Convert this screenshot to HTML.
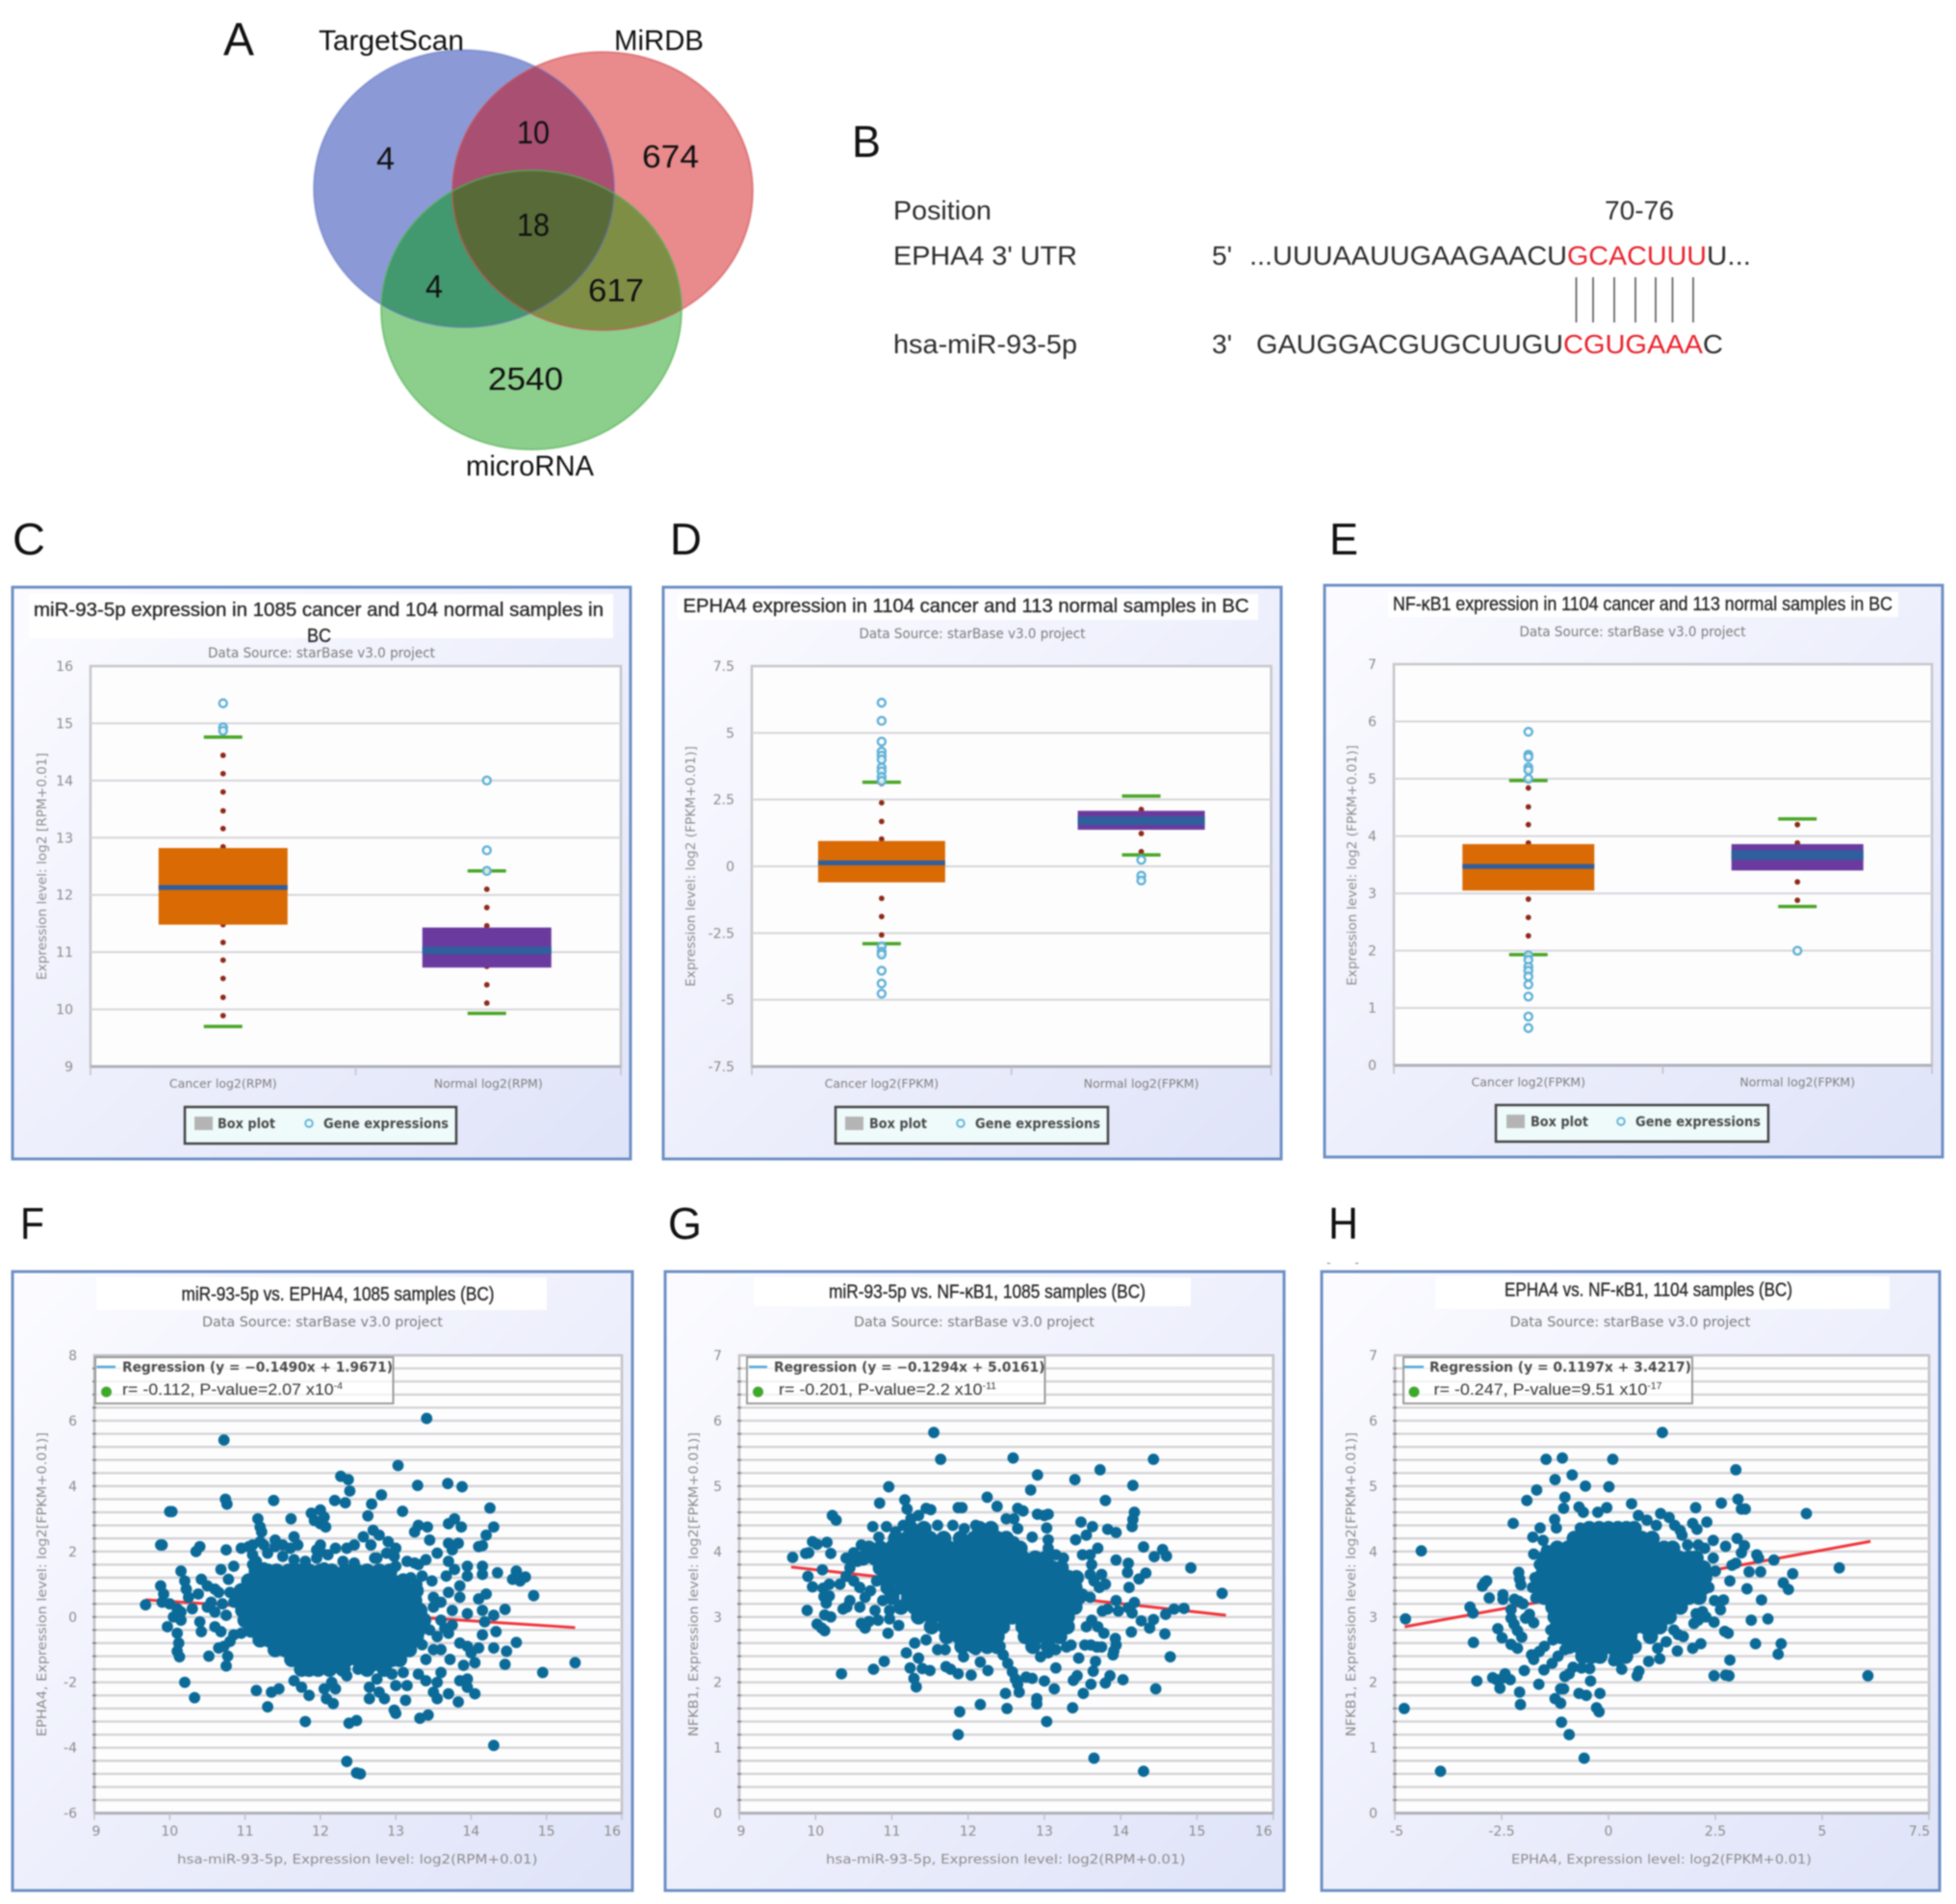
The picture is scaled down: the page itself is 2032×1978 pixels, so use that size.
<!DOCTYPE html>
<html lang="en">
<head>
<meta charset="utf-8">
<title>miR-93-5p and EPHA4 analysis figure</title>
<style>
html,body{margin:0;padding:0;background:#fff;width:2032px;height:1978px;overflow:hidden}
#figure{display:block;filter:blur(.9px)}
.ltr{font-family:"Liberation Sans",sans-serif;fill:#111}
.num{font-family:"Liberation Sans",sans-serif;fill:#111;font-size:33px}
.seq{font-family:"Liberation Sans",sans-serif;font-size:28px;fill:#2c2c2c}
.red{fill:#e8202c}
.title{font-family:"Liberation Sans",sans-serif;fill:#2a2a2a;stroke:#2a2a2a;stroke-width:.35px;font-size:20px}
.src{font-family:"DejaVu Sans",sans-serif;fill:#7c7c7c;font-size:14px}
.axt{font-family:"DejaVu Sans",sans-serif;fill:#8c8c8c;font-size:13px}
.lg{font-family:"DejaVu Sans",sans-serif;font-weight:bold;fill:#4a4a4a;font-size:14px}
.lr{font-family:"Liberation Sans",sans-serif;fill:#333;font-size:17px}
.frame{fill:url(#panel-bg);stroke:#6d8fc4;stroke-width:3}
</style>
</head>
<body>
<svg id="figure" xmlns="http://www.w3.org/2000/svg" width="2032" height="1978" viewBox="0 0 2032 1978">
<defs>
<linearGradient id="panel-bg" x1="0" y1="0" x2="1" y2="1"><stop offset="0" stop-color="#fbfbff"/><stop offset="1" stop-color="#dfe3f8"/></linearGradient>
<clipPath id="clip-blue"><ellipse cx="482" cy="196" rx="156" ry="144"/></clipPath>
<clipPath id="clip-red"><ellipse cx="626" cy="198.5" rx="156" ry="144.5"/></clipPath>
</defs>
<rect width="2032" height="1978" fill="#fff"/>

<g>
<ellipse cx="482" cy="196" rx="156" ry="144" fill="#8b9ad6"/>
<ellipse cx="626" cy="198.5" rx="156" ry="144.5" fill="#e98a8c"/>
<ellipse cx="552" cy="322" rx="156" ry="145" fill="#8ccf8c"/>
<ellipse cx="626" cy="198.5" rx="156" ry="144.5" fill="#a94f72" clip-path="url(#clip-blue)"/>
<ellipse cx="552" cy="322" rx="156" ry="145" fill="#42986f" clip-path="url(#clip-blue)"/>
<ellipse cx="552" cy="322" rx="156" ry="145" fill="#7f8e45" clip-path="url(#clip-red)"/>
<g clip-path="url(#clip-blue)"><ellipse cx="552" cy="322" rx="156" ry="145" fill="#586a38" clip-path="url(#clip-red)"/></g>
<ellipse cx="482" cy="196" rx="156" ry="144" fill="none" stroke="#5a6cc0" stroke-opacity=".45" stroke-width="2"/>
<ellipse cx="626" cy="198.5" rx="156" ry="144.5" fill="none" stroke="#cf5054" stroke-opacity=".55" stroke-width="2"/>
<ellipse cx="552" cy="322" rx="156" ry="145" fill="none" stroke="#55b055" stroke-opacity=".6" stroke-width="2"/>
<text class="ltr" x="331" y="52" font-size="30" textLength="151" lengthAdjust="spacingAndGlyphs">TargetScan</text>
<text class="ltr" x="638" y="52" font-size="30" textLength="93" lengthAdjust="spacingAndGlyphs">MiRDB</text>
<text class="ltr" x="484" y="494" font-size="30" textLength="133" lengthAdjust="spacingAndGlyphs">microRNA</text>
<text class="num" x="391" y="176" textLength="19" lengthAdjust="spacingAndGlyphs">4</text>
<text class="num" x="537" y="149" textLength="34" lengthAdjust="spacingAndGlyphs">10</text>
<text class="num" x="667" y="174" textLength="59" lengthAdjust="spacingAndGlyphs">674</text>
<text class="num" x="537" y="245" textLength="34" lengthAdjust="spacingAndGlyphs">18</text>
<text class="num" x="442" y="309" textLength="18" lengthAdjust="spacingAndGlyphs">4</text>
<text class="num" x="611" y="313" textLength="58" lengthAdjust="spacingAndGlyphs">617</text>
<text class="num" x="507" y="405" textLength="78" lengthAdjust="spacingAndGlyphs">2540</text>
</g>

<g>
<text class="ltr" x="232" y="57" font-size="48" textLength="32" lengthAdjust="spacingAndGlyphs">A</text>
<text class="ltr" x="885" y="163" font-size="46" textLength="30" lengthAdjust="spacingAndGlyphs">B</text>
<text class="ltr" x="13" y="576" font-size="46" textLength="34" lengthAdjust="spacingAndGlyphs">C</text>
<text class="ltr" x="696" y="576" font-size="46" textLength="33" lengthAdjust="spacingAndGlyphs">D</text>
<text class="ltr" x="1381" y="576" font-size="46" textLength="30" lengthAdjust="spacingAndGlyphs">E</text>
<text class="ltr" x="21" y="1287" font-size="46" textLength="25" lengthAdjust="spacingAndGlyphs">F</text>
<text class="ltr" x="694" y="1287" font-size="46" textLength="35" lengthAdjust="spacingAndGlyphs">G</text>
<text class="ltr" x="1380" y="1287" font-size="46" textLength="31" lengthAdjust="spacingAndGlyphs">H</text>
</g>

<g>
<text class="seq" x="928" y="228" textLength="102" lengthAdjust="spacingAndGlyphs">Position</text>
<text class="seq" x="1667" y="228" textLength="72" lengthAdjust="spacingAndGlyphs">70-76</text>
<text class="seq" x="928" y="275" textLength="191" lengthAdjust="spacingAndGlyphs">EPHA4 3' UTR</text>
<text class="seq" x="1259" y="275" textLength="21" lengthAdjust="spacingAndGlyphs">5'</text>
<text class="seq" x="1298" y="275" textLength="330" lengthAdjust="spacingAndGlyphs">...UUUAAUUGAAGAACU</text>
<text class="seq red" x="1628" y="275" textLength="145" lengthAdjust="spacingAndGlyphs">GCACUUU</text>
<text class="seq" x="1773" y="275" textLength="46" lengthAdjust="spacingAndGlyphs">U...</text>
<g stroke="#555" stroke-width="1.6">
<line x1="1637.5" x2="1637.5" y1="288" y2="335"/><line x1="1655" x2="1655" y1="288" y2="335"/><line x1="1677" x2="1677" y1="288" y2="335"/><line x1="1699" x2="1699" y1="288" y2="335"/><line x1="1720" x2="1720" y1="288" y2="335"/><line x1="1737.5" x2="1737.5" y1="288" y2="335"/><line x1="1759" x2="1759" y1="288" y2="335"/>
</g>
<text class="seq" x="928" y="367" textLength="191" lengthAdjust="spacingAndGlyphs">hsa-miR-93-5p</text>
<text class="seq" x="1259" y="367" textLength="21" lengthAdjust="spacingAndGlyphs">3'</text>
<text class="seq" x="1305" y="367" textLength="319" lengthAdjust="spacingAndGlyphs">GAUGGACGUGCUUGU</text>
<text class="seq red" x="1624" y="367" textLength="145" lengthAdjust="spacingAndGlyphs">CGUGAAA</text>
<text class="seq" x="1769" y="367" textLength="21" lengthAdjust="spacingAndGlyphs">C</text>
</g>

<!-- Panel C -->
<g>
<rect class="frame" x="13" y="610" width="642" height="594"/>
<rect x="30" y="617" width="607" height="46" fill="#fff"/>
<text class="title" x="35" y="640" textLength="592" lengthAdjust="spacingAndGlyphs">miR-93-5p expression in 1085 cancer and 104 normal samples in</text>
<text class="title" x="319" y="667" textLength="25" lengthAdjust="spacingAndGlyphs">BC</text>
<text class="src" x="216" y="683" textLength="236" lengthAdjust="spacingAndGlyphs">Data Source: starBase v3.0 project</text>
<g id="plot-c"></g>
<text class="axt" transform="translate(48,900) rotate(-90)" text-anchor="middle" textLength="236" lengthAdjust="spacingAndGlyphs">Expression level: log2 [RPM+0.01]</text>
<g>
<rect x="192" y="1150" width="282" height="38" fill="#eefbfa" stroke="#444" stroke-width="2.5"/>
<rect x="202" y="1160" width="19" height="14" fill="#b4b4b4"/>
<text class="lg" x="226" y="1172" textLength="60" lengthAdjust="spacingAndGlyphs">Box plot</text>
<circle cx="321" cy="1167" r="3.8" fill="none" stroke="#5fb0d8" stroke-width="1.8"/>
<text class="lg" x="336" y="1172" textLength="130" lengthAdjust="spacingAndGlyphs">Gene expressions</text>
</g>
</g>

<!-- Panel D -->
<g>
<rect class="frame" x="689" y="610" width="642" height="594"/>
<rect x="704" y="617" width="603" height="27" fill="#fff"/>
<text class="title" x="709.5" y="636" textLength="588" lengthAdjust="spacingAndGlyphs">EPHA4 expression in 1104 cancer and 113 normal samples in BC</text>
<text class="src" x="892.5" y="663" textLength="235" lengthAdjust="spacingAndGlyphs">Data Source: starBase v3.0 project</text>
<g id="plot-d"></g>
<text class="axt" transform="translate(722,900) rotate(-90)" text-anchor="middle" textLength="250" lengthAdjust="spacingAndGlyphs">Expression level: log2 (FPKM+0.01)]</text>
<g>
<rect x="868" y="1150" width="283" height="38" fill="#eefbfa" stroke="#444" stroke-width="2.5"/>
<rect x="878" y="1160" width="19" height="14" fill="#b4b4b4"/>
<text class="lg" x="903" y="1172" textLength="60" lengthAdjust="spacingAndGlyphs">Box plot</text>
<circle cx="998" cy="1167" r="3.8" fill="none" stroke="#5fb0d8" stroke-width="1.8"/>
<text class="lg" x="1013" y="1172" textLength="130" lengthAdjust="spacingAndGlyphs">Gene expressions</text>
</g>
</g>

<!-- Panel E -->
<g>
<rect class="frame" x="1376" y="608" width="642" height="594"/>
<rect x="1442" y="615" width="530" height="26" fill="#fff"/>
<text class="title" x="1447" y="634" font-size="18" textLength="519" lengthAdjust="spacingAndGlyphs">NF-κB1 expression in 1104 cancer and 113 normal samples in BC</text>
<text class="src" x="1578.5" y="661" textLength="235" lengthAdjust="spacingAndGlyphs">Data Source: starBase v3.0 project</text>
<g id="plot-e"></g>
<text class="axt" transform="translate(1409,899) rotate(-90)" text-anchor="middle" textLength="250" lengthAdjust="spacingAndGlyphs">Expression level: log2 (FPKM+0.01)]</text>
<g>
<rect x="1554" y="1148" width="283" height="38" fill="#eefbfa" stroke="#444" stroke-width="2.5"/>
<rect x="1565" y="1158" width="19" height="14" fill="#b4b4b4"/>
<text class="lg" x="1590" y="1170" textLength="60" lengthAdjust="spacingAndGlyphs">Box plot</text>
<circle cx="1684" cy="1165" r="3.8" fill="none" stroke="#5fb0d8" stroke-width="1.8"/>
<text class="lg" x="1699" y="1170" textLength="130" lengthAdjust="spacingAndGlyphs">Gene expressions</text>
</g>
</g>

<!-- Panel F -->
<g>
<rect class="frame" x="13" y="1321" width="644" height="643"/>
<rect x="100" y="1327" width="468" height="34" fill="#fff"/>
<text class="title" x="188.5" y="1351" font-size="18" textLength="325" lengthAdjust="spacingAndGlyphs">miR-93-5p vs. EPHA4, 1085 samples (BC)</text>
<text class="src" x="210" y="1378" textLength="250" lengthAdjust="spacingAndGlyphs">Data Source: starBase v3.0 project</text>
<g id="plot-f"></g>
<text class="axt" transform="translate(48,1646) rotate(-90)" text-anchor="middle" textLength="316" lengthAdjust="spacingAndGlyphs">EPHA4, Expression level: log2[FPKM+0.01)]</text>
<text class="axt" x="184" y="1936" textLength="374.5" lengthAdjust="spacingAndGlyphs">hsa-miR-93-5p, Expression level: log2(RPM+0.01)</text>
<g>
<rect x="99" y="1410" width="309.5" height="48" fill="#fff" fill-opacity=".72" stroke="#9a9a9a" stroke-width="2"/>
<line x1="100.5" x2="120" y1="1420" y2="1420" stroke="#4fa8d8" stroke-width="2.5"/>
<text class="lg" x="127" y="1425" textLength="281" lengthAdjust="spacingAndGlyphs">Regression (y = −0.1490x + 1.9671)</text>
<circle cx="110.5" cy="1446" r="5.5" fill="#3fa82c"/>
<text class="lr" x="127" y="1449" textLength="229" lengthAdjust="spacingAndGlyphs">r= -0.112, P-value=2.07 x10<tspan font-size="10" dy="-6">-4</tspan></text>
</g>
</g>

<!-- Panel G -->
<g>
<rect class="frame" x="691" y="1321" width="643" height="643"/>
<rect x="783" y="1327" width="454" height="30" fill="#fff"/>
<text class="title" x="861" y="1348.5" font-size="18" textLength="329" lengthAdjust="spacingAndGlyphs">miR-93-5p vs. NF-κB1, 1085 samples (BC)</text>
<text class="src" x="887" y="1378" textLength="250" lengthAdjust="spacingAndGlyphs">Data Source: starBase v3.0 project</text>
<g id="plot-g"></g>
<text class="axt" transform="translate(725,1646) rotate(-90)" text-anchor="middle" textLength="316" lengthAdjust="spacingAndGlyphs">NFKB1, Expression level: log2[FPKM+0.01)]</text>
<text class="axt" x="858" y="1936" textLength="373.5" lengthAdjust="spacingAndGlyphs">hsa-miR-93-5p, Expression level: log2(RPM+0.01)</text>
<g>
<rect x="776" y="1410" width="309.5" height="48" fill="#fff" fill-opacity=".72" stroke="#9a9a9a" stroke-width="2"/>
<line x1="778" x2="797" y1="1420" y2="1420" stroke="#4fa8d8" stroke-width="2.5"/>
<text class="lg" x="804" y="1425" textLength="281.5" lengthAdjust="spacingAndGlyphs">Regression (y = −0.1294x + 5.0161)</text>
<circle cx="787.5" cy="1446" r="5.5" fill="#3fa82c"/>
<text class="lr" x="809" y="1449" textLength="226" lengthAdjust="spacingAndGlyphs">r= -0.201, P-value=2.2 x10<tspan font-size="10" dy="-6">-11</tspan></text>
</g>
</g>

<!-- Panel H -->
<g>
<rect class="frame" x="1373" y="1321" width="642" height="643"/>
<text class="axt" x="1378" y="1316" textLength="34" lengthAdjust="spacing">- -</text>
<rect x="1491" y="1326" width="472" height="34" fill="#fff"/>
<text class="title" x="1563" y="1346.5" font-size="18" textLength="299" lengthAdjust="spacingAndGlyphs">EPHA4 vs. NF-κB1, 1104 samples (BC)</text>
<text class="src" x="1568.5" y="1378" textLength="250" lengthAdjust="spacingAndGlyphs">Data Source: starBase v3.0 project</text>
<g id="plot-h"></g>
<text class="axt" transform="translate(1408,1646) rotate(-90)" text-anchor="middle" textLength="316" lengthAdjust="spacingAndGlyphs">NFKB1, Expression level: log2[FPKM+0.01)]</text>
<text class="axt" x="1570" y="1936" textLength="312" lengthAdjust="spacingAndGlyphs">EPHA4, Expression level: log2(FPKM+0.01)</text>
<g>
<rect x="1458" y="1410" width="300" height="48" fill="#fff" fill-opacity=".72" stroke="#9a9a9a" stroke-width="2"/>
<line x1="1459" x2="1479" y1="1420" y2="1420" stroke="#4fa8d8" stroke-width="2.5"/>
<text class="lg" x="1485" y="1425" textLength="272" lengthAdjust="spacingAndGlyphs">Regression (y = 0.1197x + 3.4217)</text>
<circle cx="1469" cy="1446" r="5.5" fill="#3fa82c"/>
<text class="lr" x="1489.5" y="1449" textLength="237" lengthAdjust="spacingAndGlyphs">r= -0.247, P-value=9.51 x10<tspan font-size="10" dy="-6">-17</tspan></text>
</g>
</g>
</svg>

<script>
/* ---------- Box plot data ---------- */
const cCategories = ["Cancer log2(RPM)", "Normal log2(RPM)"];
const cYTicks = [9, 10, 11, 12, 13, 14, 15, 16];
const cQ1 = [11.48, 10.73];
const cMedian = [12.13, 11.03];
const cQ3 = [12.82, 11.43];
const cWhiskerLow = [9.70, 9.93];
const cWhiskerHigh = [14.76, 12.42];
const cOutliersCancer = [15.35, 14.93, 14.87];
const cOutliersNormal = [14.0, 12.78, 12.42];
const cDotsCancer = [14.44, 14.12, 13.80, 13.47, 13.16, 12.84, 11.48, 11.17, 10.86, 10.54, 10.21, 9.89];
const cDotsNormal = [12.10, 11.78, 11.46, 10.75, 10.43, 10.11];

const dCategories = ["Cancer log2(FPKM)", "Normal log2(FPKM)"];
const dYTicks = [-7.5, -5, -2.5, 0, 2.5, 5, 7.5];
const dQ1 = [-0.60, 1.37];
const dMedian = [0.13, 1.71];
const dQ3 = [0.95, 2.08];
const dWhiskerLow = [-2.90, 0.43];
const dWhiskerHigh = [3.15, 2.63];
const dOutliersCancer = [6.13, 5.45, 4.67, 4.3, 4.15, 4.0, 3.7, 3.56, 3.35, 3.2, -3.0, -3.2, -3.3, -3.91, -4.39, -4.77];
const dOutliersNormal = [0.24, -0.35, -0.53];
const dDotsCancer = [3.1, 2.38, 1.68, 1.02, -1.2, -1.88, -2.57];
const dDotsNormal = [2.13, 1.23, 0.55];

const eCategories = ["Cancer log2(FPKM)", "Normal log2(FPKM)"];
const eYTicks = [0, 1, 2, 3, 4, 5, 6, 7];
const eQ1 = [3.05, 3.40];
const eMedian = [3.47, 3.67];
const eQ3 = [3.86, 3.86];
const eWhiskerLow = [1.93, 2.77];
const eWhiskerHigh = [4.97, 4.30];
const eOutliersCancer = [5.82, 5.42, 5.38, 5.2, 5.15, 5.0, 1.92, 1.84, 1.72, 1.65, 1.55, 1.41, 1.2, 0.85, 0.65];
const eOutliersNormal = [2.0];
const eDotsCancer = [4.84, 4.51, 4.2, 3.88, 2.9, 2.58, 2.26];
const eDotsNormal = [4.2, 3.88, 3.2, 2.88];

/* ---------- Scatter data: F ---------- */
const fXTicks = [9, 10, 11, 12, 13, 14, 15, 16];
const fYTicks = [-6, -4, -2, 0, 2, 4, 6, 8];
const fRegressionX = [9.68, 15.38];
const fRegressionY = [0.525, -0.325];
const fPoints = [[13.41,6.07],[10.72,5.41],[13.03,4.63],[12.27,4.3],[12.37,4.2],[12.39,3.85],[13.29,4.02],[13.69,4.08],[13.88,3.98],[12.81,3.73],[10.74,3.6],[10.76,3.45],[11.38,3.56],[12.19,3.56],[12.33,3.49],[12.68,3.45],[12.63,3.09],[13.09,3.23],[14.25,3.33],[10.03,3.22],[10,3.22],[11.17,3],[11.61,3],[11.88,3.17],[12,3.27],[12.05,3.05],[11.92,2.95],[12,2.85],[12.07,2.75],[11.2,2.75],[11.22,2.6],[12.7,2.65],[12.78,2.5],[13.25,2.6],[13.3,2.8],[13.42,2.75],[13.7,2.85],[13.78,3],[13.87,2.75],[14.3,2.75],[14.2,2.5],[12.57,2.45],[12.67,2.2],[12.9,2.3],[13,2.1],[12.75,1.8],[12.88,1.95],[13.45,2.35],[13.7,2.25],[13.83,2.25],[13.75,2.05],[14.1,2.15],[14.15,2.18],[11.4,2.35],[11.5,2.2],[11.6,2.1],[11.7,2.2],[11.65,2.45],[11.25,2.2],[11.3,1.95],[11.1,2.2],[10.75,2.05],[10.95,2.1],[10.35,2],[10.4,2.15],[9.9,2.2],[9.88,2.2],[12,2.2],[11.95,2.05],[12.2,2.1],[12.35,2.1],[12.45,2.2],[12.1,1.9],[14.15,1.55],[13.95,1.55],[13.95,1.25],[14.15,1.3],[14.6,1.4],[14.35,1.35],[14.55,1.15],[14.65,1.1],[14.72,1.22],[14.83,0.65],[14.45,0.23],[14.2,0.7],[14.1,0.55],[13.3,1.6],[13.4,1.75],[13.55,1.95],[13.7,1.7],[13.67,1.25],[13.78,1.45],[13.85,0.95],[13.7,0.75],[13.85,0.6],[13.95,0.1],[14.15,0.2],[14.18,-0.15],[14.3,0.05],[14.15,-0.55],[14.33,-0.45],[14.3,-0.95],[14.47,-1.05],[14.6,-0.78],[14.45,-1.45],[14.95,-1.7],[15.38,-1.4],[13.95,-0.9],[13.85,-0.8],[14,-1.1],[14.1,-0.95],[14.05,-1.4],[13.9,-1.48],[13.6,-1.7],[13.72,-1.3],[13.4,-1.95],[13.55,-2],[13.5,-2.3],[13.55,-2.5],[13.7,-2.35],[13.83,-2.6],[13.85,-1.95],[13.95,-1.9],[13.95,-2.15],[14.05,-2.35],[13.1,-1.7],[13.15,-2.1],[13.3,-1.75],[13,-2.1],[12.95,-1.75],[13.13,-2.55],[12.98,-2.85],[13,-2.95],[13.32,-3.1],[13.43,-3],[12.7,-1.5],[12.75,-1.9],[12.65,-2.15],[12.78,-2.3],[12.65,-2.5],[12.85,-2.5],[12.35,-1.8],[12.5,-1.6],[11.3,-2.75],[11.15,-2.25],[11.35,-2.3],[11.45,-2.2],[11.75,-2.15],[11.85,-2.4],[11.65,-1.95],[12.05,-2.2],[12.15,-2],[12.2,-2.2],[12.08,-2.5],[12.17,-2.65],[11.8,-3.2],[12.38,-3.25],[12.48,-3.17],[14.3,-3.93],[12.35,-4.42],[12.48,-4.77],[12.53,-4.8],[10.2,-2],[10.33,-2.47],[9.68,0.37],[9.88,0.95],[9.92,0.7],[9.9,0.45],[10,0.4],[9.97,-0.3],[10.05,0],[10.1,0.25],[10.15,1.4],[10.2,1.1],[10.22,0.85],[10.25,0.6],[10.15,0.15],[10.15,-0.1],[10.1,-0.5],[10.12,-0.8],[10.1,-1.05],[10.13,-1.22],[10.3,0.25],[10.38,0.7],[10.42,1.15],[10.5,0.95],[10.6,0.85],[10.65,0.75],[10.4,-0.15],[10.42,-0.45],[10.5,0.3],[10.6,0.15],[10.6,-0.3],[10.68,-0.45],[10.52,-1.2],[10.65,-0.95],[10.72,-0.9],[10.77,-1.2],[10.75,-1.5],[10.8,-0.75],[10.85,-0.55],[10.95,-0.5],[10.68,1.45],[10.85,1.55],[10.78,1.15],[10.8,0.75],[10.7,0.4],[10.55,0.45],[10.85,0.45],[10.75,0.05],[11.05,2.15],[11.1,1.9],[11.1,1.6],[11.25,1.5],[11.2,2.3],[11.4,2.15],[11.15,1.7],[11.5,1.85],[11.65,1.75],[11.8,1.7],[11.95,1.8],[12.05,1.5],[12,2],[12.3,1.7],[12.45,1.65],[12.6,1.35],[12.72,1.8],[12.98,1.85],[13,1.55],[13.15,1.7],[13.25,1.65],[13.2,1.2],[13.28,1],[13.35,1.25],[13.48,1.1],[13.5,0.3],[13.6,-0.1],[13.65,-0.35],[13.55,-0.6],[13.7,-0.5],[13.75,-0.25],[13.45,-0.4],[13.3,-0.6],[13.4,-1.3],[13.5,-1],[13.6,-1],[13.35,-0.85],[13.75,0.2],[13.5,0.6],[13.6,0.45]];
const fRowY = [1.4, 1.1, 0.8, 0.5, 0.2, -0.1, -0.4, -0.7, -1, -1.3, -1.6];
const fRowX = [
[11.15,11.3,11.42,11.58,11.7,11.85,12,12.15,12.33,12.48,12.62,12.78,12.92],
[11.05,11.18,11.32,11.47,11.62,11.75,11.9,12.05,12.2,12.35,12.5,12.65,12.8,12.95,13.1],
[10.95,11.1,11.25,11.38,11.53,11.68,11.82,11.97,12.12,12.27,12.42,12.57,12.72,12.87,13.02,13.17,13.27],
[10.9,11.03,11.17,11.32,11.47,11.6,11.75,11.9,12.05,12.2,12.35,12.5,12.65,12.8,12.95,13.1,13.25],
[10.97,11.1,11.25,11.38,11.53,11.68,11.82,11.97,12.12,12.27,12.42,12.57,12.72,12.87,13.02,13.17,13.32],
[11,11.17,11.32,11.47,11.6,11.75,11.9,12.05,12.2,12.35,12.5,12.65,12.8,12.95,13.1,13.25,13.37],
[11.08,11.25,11.38,11.53,11.68,11.82,11.97,12.12,12.27,12.42,12.57,12.72,12.87,13.02,13.17,13.3],
[11.2,11.32,11.47,11.6,11.75,11.9,12.05,12.2,12.35,12.5,12.65,12.8,12.95,13.1,13.25],
[11.4,11.53,11.68,11.82,11.97,12.12,12.27,12.42,12.57,12.72,12.87,13.02,13.18],
[11.62,11.75,11.9,12.05,12.2,12.35,12.5,12.65,12.8,12.95,13.05],
[11.75,11.85,11.97,12.12,12.3,12.62,12.85]
];

/* ---------- Scatter data: G ---------- */
const gXTicks = [9, 10, 11, 12, 13, 14, 15, 16];
const gYTicks = [0, 1, 2, 3, 4, 5, 6, 7];
const gRegressionX = [9.68, 15.38];
const gRegressionY = [3.763, 3.026];
const gPoints = [[11.55,5.82],[11.64,5.41],[12.59,5.43],[14.43,5.41],[13.73,5.25],[12.91,5.17],[13.4,5.1],[10.96,4.99],[14.16,5.01],[12.82,4.94],[13.8,4.78],[10.84,4.74],[11.17,4.79],[12.25,4.83],[12.38,4.69],[14.18,4.6],[14.16,4.49],[14.15,4.38],[11.87,4.67],[11.92,4.67],[11.45,4.66],[11.51,4.64],[10.22,4.55],[10.27,4.48],[12.65,4.66],[12.72,4.62],[12.91,4.57],[13,4.55],[13.05,4.57],[13.03,4.36],[13.48,4.45],[13.63,4.38],[13.83,4.34],[13.94,4.29],[12.84,4.22],[13.41,4.18],[13.55,4.25],[14.3,4.07],[14.55,4.03],[14.44,3.92],[14.6,3.93],[14.92,3.75],[15.33,3.36],[9.7,3.91],[9.87,3.97],[9.91,3.98],[9.96,4.15],[10.02,4.11],[10.15,4.14],[10.2,3.97],[10.09,3.72],[9.9,3.62],[9.96,3.46],[9.89,3.1],[10.02,2.89],[10.08,2.83],[10.12,2.79],[10.12,3.03],[10.2,3],[10.1,3.44],[10.18,3.5],[10.11,3.31],[10.18,3.32],[10.14,3.21],[10.32,3.5],[10.36,3.12],[10.41,3.15],[10.34,2.13],[10.76,2.2],[10.9,2.32],[10.95,2.75],[11.09,2.87],[11.19,2.45],[11.24,2.22],[11.29,2.06],[11.32,1.93],[11.35,2.37],[11.4,2.21],[11.5,2.18],[11.71,2.24],[11.77,2.2],[11.87,2.13],[12.04,2.11],[12.16,2.31],[12.26,2.18],[11.94,2.39],[11.89,1.55],[11.87,1.2],[12.16,1.66],[12.49,1.83],[12.51,1.6],[12.67,1.85],[12.65,1.97],[12.9,1.75],[12.9,1.67],[12.76,2.08],[12.84,2.06],[13,2.02],[13.13,1.9],[13.03,1.4],[13.37,1.61],[13.38,2.03],[13.43,2.1],[13.51,1.83],[13.61,1.97],[13.64,2.17],[13.67,2.32],[13.8,1.99],[13.86,2.1],[14.03,2.04],[14.46,1.9],[13.65,0.84],[14.3,0.64],[13.15,2.22],[12.95,2.39],[12.42,2.55],[12.46,2.42],[12.52,2.29],[12.58,2.16],[12.62,2.05],[14.65,2.39],[14.58,2.74],[14.38,2.83],[14.43,2.96],[14.27,2.94],[14.14,2.77],[14.59,3.04],[14.7,3.12],[14.83,3.13],[14.18,3.22],[14.15,3.06],[14.1,3.14],[13.94,3.25],[13.97,3.09],[13.83,3.12],[13.76,3.09],[14.24,3.58],[14.33,3.67],[14.11,3.45],[14.09,3.68],[14.1,3.82],[13.94,3.87],[13.91,2.48],[13.9,2.42],[13.94,2.57],[13.93,2.67],[13.75,2.54],[13.69,2.54],[13.61,2.57],[13.53,2.57],[13.45,2.37],[13.29,2.54],[13.35,2.57],[13.15,2.5],[13.05,2.45],[10.4,3.9],[10.45,3.75],[10.5,3.98],[10.55,3.85],[10.6,4.1],[10.7,4.05],[10.8,4],[10.75,4.38],[10.83,4.22],[10.93,4.38],[11,4.1],[10.4,3.62],[10.5,3.55],[10.58,3.45],[10.65,3.3],[10.72,3.4],[10.8,3.55],[10.45,3.25],[10.58,3.15],[10.6,2.9],[10.65,2.83],[10.7,2.93],[10.82,2.95],[10.78,3.1],[10.88,3.25],[10.97,3.1],[10.97,2.97],[11.05,3.4],[11.15,4.4],[11.25,4.5],[11.2,4.65],[11.35,4.55],[11.05,4.3],[11.6,4.4],[11.8,4.4],[11.95,4.35],[12.1,4.4],[12.3,4.3],[12.4,4.2],[12.5,4.5],[12.6,4.5],[12.65,4.35],[12.6,4.15],[13.05,4.18],[13.05,4.05],[13.15,3.95],[13.25,3.9],[13.5,3.95],[13.6,3.95],[13.7,4.05],[13.62,3.8],[13.6,3.65],[13.65,3.55],[13.72,3.45],[13.75,3.65],[13.8,3.5],[13.5,3.35],[13.6,3.3],[13.62,2.95],[13.7,2.85],[13.78,2.75],[13.55,2.85],[11.3,2.6],[11.45,2.65],[11.6,2.5],[11.7,2.5],[11.5,2.85],[12.1,2.5],[12.3,2.55]];
const gRowY = [4.35, 4.2, 4.05, 3.9, 3.75, 3.6, 3.45, 3.3, 3.15, 3, 2.85, 2.7, 2.55];
const gRowX = [
[11.25,11.42,12.15,12.3],
[11.05,11.2,11.35,11.5,11.68,11.9,12.08,12.22,12.38,12.5],
[10.7,10.85,11,11.15,11.3,11.45,11.6,11.75,11.9,12.05,12.2,12.35,12.5,12.68],
[10.5,10.62,10.78,10.92,11.08,11.22,11.38,11.52,11.68,11.82,11.98,12.12,12.28,12.42,12.58,12.72,12.88,13.02],
[10.85,11,11.15,11.3,11.45,11.6,11.75,11.9,12.05,12.2,12.35,12.5,12.65,12.8,12.95,13.1,13.22],
[10.92,11.08,11.22,11.38,11.52,11.68,11.82,11.98,12.12,12.28,12.42,12.58,12.72,12.88,13.02,13.18,13.32,13.42],
[10.95,11.15,11.3,11.45,11.6,11.75,11.9,12.05,12.2,12.35,12.5,12.65,12.8,12.95,13.1,13.25,13.4],
[11,11.22,11.38,11.52,11.68,11.82,11.98,12.12,12.28,12.42,12.58,12.72,12.88,13.02,13.18,13.32,13.45],
[11.12,11.3,11.45,11.6,11.75,11.9,12.05,12.2,12.35,12.5,12.65,12.8,12.95,13.1,13.25,13.4],
[11.35,11.52,11.68,11.82,11.98,12.12,12.28,12.42,12.58,12.72,12.88,13.02,13.18,13.3],
[11.52,11.7,11.85,12,12.15,12.3,12.45,12.72,12.85,13,13.15,13.3],
[11.72,11.88,12.05,12.22,12.38,12.75,12.9,13.08,13.2],
[11.92,12.08,12.25,12.38,12.85,13.05]
];

/* ---------- Scatter data: H ---------- */
const hXTicks = [-5, -2.5, 0, 2.5, 5, 7.5];
const hXTickLabels = ["-5", "-2.5", "0", "2.5", "5", "7.5"];
const hYTicks = [0, 1, 2, 3, 4, 5, 6, 7];
const hRegressionX = [-4.77, 6.13];
const hRegressionY = [2.85, 4.156];
const hPoints = [[1.26,5.82],[-1.46,5.41],[-1.08,5.43],[0.1,5.41],[2.98,5.25],[-0.85,5.17],[-1.25,5.1],[-0.54,5],[0.01,4.99],[-1.68,4.94],[-1.91,4.78],[-1.02,4.83],[3.03,4.8],[2.64,4.74],[3.11,4.65],[3.2,4.65],[2.04,4.67],[4.63,4.58],[-1.05,4.66],[-0.69,4.68],[-0.59,4.6],[-0.25,4.6],[-0.04,4.67],[0.54,4.73],[1.22,4.58],[1.42,4.52],[-2.23,4.43],[-1.6,4.36],[-1.26,4.49],[-1.22,4.36],[-0.66,4.36],[-4.38,4.01],[-1.77,4.22],[-1.53,4.17],[-1.75,3.96],[1.97,4.43],[2.3,4.45],[2.07,4.34],[1.68,4.32],[2.45,4.17],[2.74,4.08],[3.01,4.2],[3.18,4.09],[3.11,3.98],[3.47,3.95],[3.51,3.9],[3.87,3.87],[2.98,3.82],[2.89,3.79],[3.29,3.69],[3.56,3.69],[4.31,3.66],[4.09,3.52],[4.21,3.42],[5.4,3.75],[2.84,3.55],[3.24,3.43],[3.58,3.26],[2.69,3.26],[2.48,3.25],[2.62,3.11],[3.34,2.95],[3.73,2.97],[2.47,2.92],[2.72,2.78],[2.8,2.75],[3.44,2.59],[4.04,2.59],[3.97,2.43],[2.84,2.34],[2.47,2.1],[2.74,2.11],[2.82,2.1],[6.07,2.1],[-4.75,2.97],[-4.78,1.6],[-3.93,0.64],[-3.24,3.15],[-3.17,3.06],[-3.16,2.61],[-3.08,2.02],[-2.9,3.52],[-2.85,3.55],[-2.95,3.47],[-2.79,3.29],[-2.47,3.34],[-2.47,3.27],[-2.59,2.82],[-2.49,2.68],[-2.71,2.07],[-2.62,2.04],[-2.54,1.91],[-2.42,2.13],[-2.3,2.04],[-2.46,2.07],[-2.28,2.58],[-2.13,2.52],[-1.97,2.18],[-2.08,1.85],[-2.06,1.66],[-1.63,1.97],[-2.2,3.27],[-2.1,3.68],[-2.08,3.58],[-2.05,3.49],[-2,3.2],[-2.1,3.24],[-2.28,3.11],[-2.28,2.98],[-2.21,2.89],[-2.13,2.79],[-2.03,2.69],[-1.94,2.98],[-1.75,2.91],[-1.7,3.29],[-1.85,3.04],[-1.8,2.42],[-1.75,2.35],[-1.51,2.19],[-1.32,2.29],[-1.12,1.9],[-1.05,1.9],[-1.25,1.75],[-1.12,1.68],[-1.1,1.39],[-0.92,1.2],[-0.57,0.84],[-0.69,1.83],[-0.52,1.8],[-0.2,1.83],[-0.28,1.61],[-0.22,1.55],[-0.42,2.02],[-0.44,2.21],[-0.63,2.22],[-0.83,2.23],[-1.02,2.09],[-0.92,2.13],[0.12,2.33],[0.22,2.33],[0.31,2.2],[0.67,2.1],[0.71,2.17],[0.94,2.32],[1.2,2.36],[1.15,2.52],[1.35,2.62],[1.61,2.48],[1.97,2.52],[2.16,2.59],[1.63,2.73],[1.53,2.8],[1.75,2.7],[2,2.9],[2.05,3.05],[2.2,3.08],[2.1,2.95],[2.28,3],[2.35,3.45],[2.5,3.7],[2.45,3.9],[2.25,4.05],[2.1,4.1],[1.85,4.1],[1.72,4.25],[1.55,4.4],[1.12,4.4],[0.9,4.48],[0.7,4.55],[-1.45,4.02],[-1.62,3.8],[-1.72,3.6],[-1.78,3.45],[-1.55,3.3],[-1.35,2.8],[-1.3,2.65],[-1.5,2.55],[-1.62,2.47],[-1.18,2.4],[-1.02,2.5]];
const hRowY = [4.35, 4.2, 4.05, 3.9, 3.75, 3.6, 3.45, 3.3, 3.15, 3, 2.85, 2.7, 2.55, 2.4];
const hRowX = [
[-0.45,-0.22,0,0.22,0.42,0.6],
[-0.8,-0.55,-0.33,-0.1,0.12,0.33,0.55,0.78,1.02],
[-1.2,-0.95,-0.72,-0.5,-0.28,-0.05,0.18,0.4,0.62,0.85,1.08,1.3,1.5],
[-1.5,-1.28,-1.05,-0.82,-0.6,-0.38,-0.15,0.08,0.3,0.52,0.75,0.98,1.2,1.42,1.65,1.88,2.05],
[-1.52,-1.3,-1.08,-0.85,-0.62,-0.4,-0.18,0.05,0.28,0.5,0.72,0.95,1.18,1.4,1.62,1.85,2.08,2.22],
[-1.6,-1.38,-1.15,-0.92,-0.7,-0.48,-0.25,-0.02,0.2,0.42,0.65,0.88,1.1,1.32,1.55,1.78,2,2.25],
[-1.62,-1.4,-1.18,-0.95,-0.72,-0.5,-0.28,-0.05,0.18,0.4,0.62,0.85,1.08,1.3,1.52,1.75,1.98,2.22],
[-1.5,-1.28,-1.05,-0.82,-0.6,-0.38,-0.15,0.08,0.3,0.52,0.75,0.98,1.2,1.42,1.65,1.88,2.12],
[-1.3,-1.08,-0.85,-0.62,-0.4,-0.18,0.05,0.28,0.5,0.72,0.95,1.18,1.4,1.68],
[-1.25,-1.02,-0.8,-0.58,-0.35,-0.12,0.1,0.32,0.55,0.78,1,1.22,1.42],
[-1.2,-0.95,-0.72,-0.5,-0.28,-0.05,0.18,0.4,0.62,0.85,1.2],
[-1.1,-0.85,-0.62,-0.4,-0.18,0.05,0.28,0.5,0.98],
[-0.92,-0.68,-0.45,-0.22,0,0.22,0.45,0.6],
[-0.6,-0.4,-0.2,0.2,0.4]
];

/* ---------- Drawing ---------- */
const svgNS = "http://www.w3.org/2000/svg";
function make(tag, attrs, parent) {
  const el = document.createElementNS(svgNS, tag);
  for (const k in attrs) el.setAttribute(k, attrs[k]);
  parent.appendChild(el);
  return el;
}
function linear(d0, d1, r0, r1) {
  return v => r0 + (v - d0) / (d1 - d0) * (r1 - r0);
}
const tickFont = '"DejaVu Sans", sans-serif';

function drawBoxPanel(cfg) {
  const g = document.getElementById(cfg.id);
  const p = cfg.plot;
  const y = linear(Math.min(...cfg.yTicks), Math.max(...cfg.yTicks), p.b, p.t);
  const bandW = (p.r - p.l) / cfg.categories.length;
  const cx = i => p.l + (i + 0.5) * bandW;
  const plotBg = make('rect', {x: p.l, y: p.t, width: p.r - p.l, height: p.b - p.t, fill: '#fdfdfe', stroke: '#c6c6ca', 'stroke-width': 2.5}, g);
  
  
  cfg.yTicks.forEach(t => {
    if (t !== Math.min(...cfg.yTicks) && t !== Math.max(...cfg.yTicks)) {
      const grid = make('line', {x1: p.l, x2: p.r, y1: y(t), y2: y(t), stroke: '#d6d6d8', 'stroke-width': 2}, g);
      
      
    }
    const label = make('text', {x: p.l - 18, y: y(t) + 5, 'text-anchor': 'end', 'font-family': tickFont, 'font-size': 14, fill: '#8c8c8c'}, g);
    label.textContent = String(t);
    
    
  });
  const axis = make('line', {x1: p.l, x2: p.r, y1: p.b, y2: p.b, stroke: '#aeb0b8', 'stroke-width': 3}, g);
  
  
  for (let i = 0; i <= cfg.categories.length; i++) {
    const tick = make('line', {x1: p.l + i * bandW, x2: p.l + i * bandW, y1: p.b, y2: p.b + 9, stroke: '#c0c0c4', 'stroke-width': 1.5}, g);
    
    
  }
  cfg.categories.forEach((name, i) => {
    const x = cx(i) - cfg.shift * i;
    const label = make('text', {x: cx(i), y: p.b + 22, 'text-anchor': 'middle', 'font-family': tickFont, 'font-size': 12.5, fill: '#7f7f7f'}, g);
    label.textContent = name;
    
    
    cfg.dots[i].forEach(v => {
      const dot = make('circle', {cx: x, cy: y(v), r: 2.9, fill: '#8f2a18'}, g);
      
      
    });
    const box = make('rect', {x: x - cfg.boxHalf, y: y(cfg.q3[i]), width: cfg.boxHalf * 2, height: y(cfg.q1[i]) - y(cfg.q3[i]), fill: cfg.colors[i]}, g);
    
    
    const med = make('line', {x1: x - cfg.boxHalf, x2: x + cfg.boxHalf, y1: y(cfg.median[i]), y2: y(cfg.median[i]), stroke: '#2f5f9c', 'stroke-width': cfg.medianWidth[i]}, g);
    
    
    [cfg.low[i], cfg.high[i]].forEach(v => {
      const cap = make('line', {x1: x - 20, x2: x + 20, y1: y(v), y2: y(v), stroke: '#4aa626', 'stroke-width': 3.5}, g);
      
      
    });
    cfg.outliers[i].forEach(v => {
      const out = make('circle', {cx: x, cy: y(v), r: 4, fill: '#fff', 'fill-opacity': 0.75, stroke: '#5fb0d6', 'stroke-width': 2.4}, g);
      
      
    });
  });
}

function drawScatter(cfg) {
  const g = document.getElementById(cfg.id);
  const p = cfg.plot;
  const x = linear(Math.min(...cfg.xTicks), Math.max(...cfg.xTicks), p.l, p.r);
  const yLo = Math.min(...cfg.yTicks), yHi = Math.max(...cfg.yTicks);
  const y = linear(yLo, yHi, p.b, p.t);
  const plotBg = make('rect', {x: p.l, y: p.t, width: p.r - p.l, height: p.b - p.t, fill: '#fdfdfe', stroke: '#c2c2c6', 'stroke-width': 2.5}, g);
  
  
  const steps = 35;
  for (let i = 1; i < steps; i++) {
    const v = yLo + (yHi - yLo) * i / steps;
    const grid = make('line', {x1: p.l, x2: p.r, y1: y(v), y2: y(v), stroke: '#d4d4d6', 'stroke-width': 2.4}, g);
    
    
    const minor = make('line', {x1: p.l - 2, x2: p.l + 2, y1: y(v), y2: y(v), stroke: '#888', 'stroke-width': 2}, g);
    
    
  }
  const axis = make('line', {x1: p.l, x2: p.r, y1: p.b, y2: p.b, stroke: '#aeb0b8', 'stroke-width': 3}, g);
  
  
  cfg.yTicks.forEach(t => {
    const label = make('text', {x: p.l - 18, y: y(t) + 5, 'text-anchor': 'end', 'font-family': tickFont, 'font-size': 14, fill: '#8c8c8c'}, g);
    label.textContent = String(t);
    
    
  });
  cfg.xTicks.forEach((t, i) => {
    const px = x(t);
    const tick = make('line', {x1: px, x2: px, y1: p.b, y2: p.b + 7, stroke: '#c0c0c4', 'stroke-width': 1.5}, g);
    
    
    const label = make('text', {x: Math.max(p.l + 2, Math.min(p.r - 10, px)), y: 1907, 'text-anchor': 'middle', 'font-family': tickFont, 'font-size': 14, fill: '#8c8c8c'}, g);
    label.textContent = cfg.xLabels ? cfg.xLabels[i] : String(t);
    
    
  });
  const reg = make('line', {x1: x(cfg.regX[0]), x2: x(cfg.regX[1]), y1: y(cfg.regY[0]), y2: y(cfg.regY[1]), stroke: '#f0343a', 'stroke-width': 3}, g);
  
  
  cfg.rowY.forEach((rowValue, r) => {
    cfg.rowX[r].forEach(v => {
      const pt = make('circle', {cx: x(v), cy: y(rowValue), r: 8, fill: '#0b6a98'}, g);
      
      
    });
  });
  cfg.points.forEach(d => {
    const pt = make('circle', {cx: x(d[0]), cy: y(d[1]), r: 5.9, fill: '#0b6a98'}, g);
    
    
  });
}

const orangePurple = ['#d96a04', '#6b3a9e'];
drawBoxPanel({id: 'plot-c', plot: {l: 94, r: 645, t: 692, b: 1108}, yTicks: cYTicks, categories: cCategories, q1: cQ1, median: cMedian, q3: cQ3, low: cWhiskerLow, high: cWhiskerHigh, outliers: [cOutliersCancer, cOutliersNormal], dots: [cDotsCancer, cDotsNormal], colors: orangePurple, boxHalf: 67, medianWidth: [5, 8], shift: 1.5});
drawBoxPanel({id: 'plot-d', plot: {l: 781, r: 1320.5, t: 692, b: 1108}, yTicks: dYTicks, categories: dCategories, q1: dQ1, median: dMedian, q3: dQ3, low: dWhiskerLow, high: dWhiskerHigh, outliers: [dOutliersCancer, dOutliersNormal], dots: [dDotsCancer, dDotsNormal], colors: orangePurple, boxHalf: 66, medianWidth: [5, 9], shift: 0});
drawBoxPanel({id: 'plot-e', plot: {l: 1448, r: 2007, t: 690, b: 1106.7}, yTicks: eYTicks, categories: eCategories, q1: eQ1, median: eMedian, q3: eQ3, low: eWhiskerLow, high: eWhiskerHigh, outliers: [eOutliersCancer, eOutliersNormal], dots: [eDotsCancer, eDotsNormal], colors: orangePurple, boxHalf: 68.5, medianWidth: [5, 10], shift: 0});
drawScatter({id: 'plot-f', plot: {l: 98, r: 646, t: 1408, b: 1883.6}, xTicks: fXTicks, yTicks: fYTicks, regX: fRegressionX, regY: fRegressionY, points: fPoints, rowY: fRowY, rowX: fRowX});
drawScatter({id: 'plot-g', plot: {l: 768, r: 1322.7, t: 1408, b: 1883.6}, xTicks: gXTicks, yTicks: gYTicks, regX: gRegressionX, regY: gRegressionY, points: gPoints, rowY: gRowY, rowX: gRowX});
drawScatter({id: 'plot-h', plot: {l: 1449, r: 2004, t: 1408, b: 1883.6}, xTicks: hXTicks, xLabels: hXTickLabels, yTicks: hYTicks, regX: hRegressionX, regY: hRegressionY, points: hPoints, rowY: hRowY, rowX: hRowX});
</script>
</body>
</html>
